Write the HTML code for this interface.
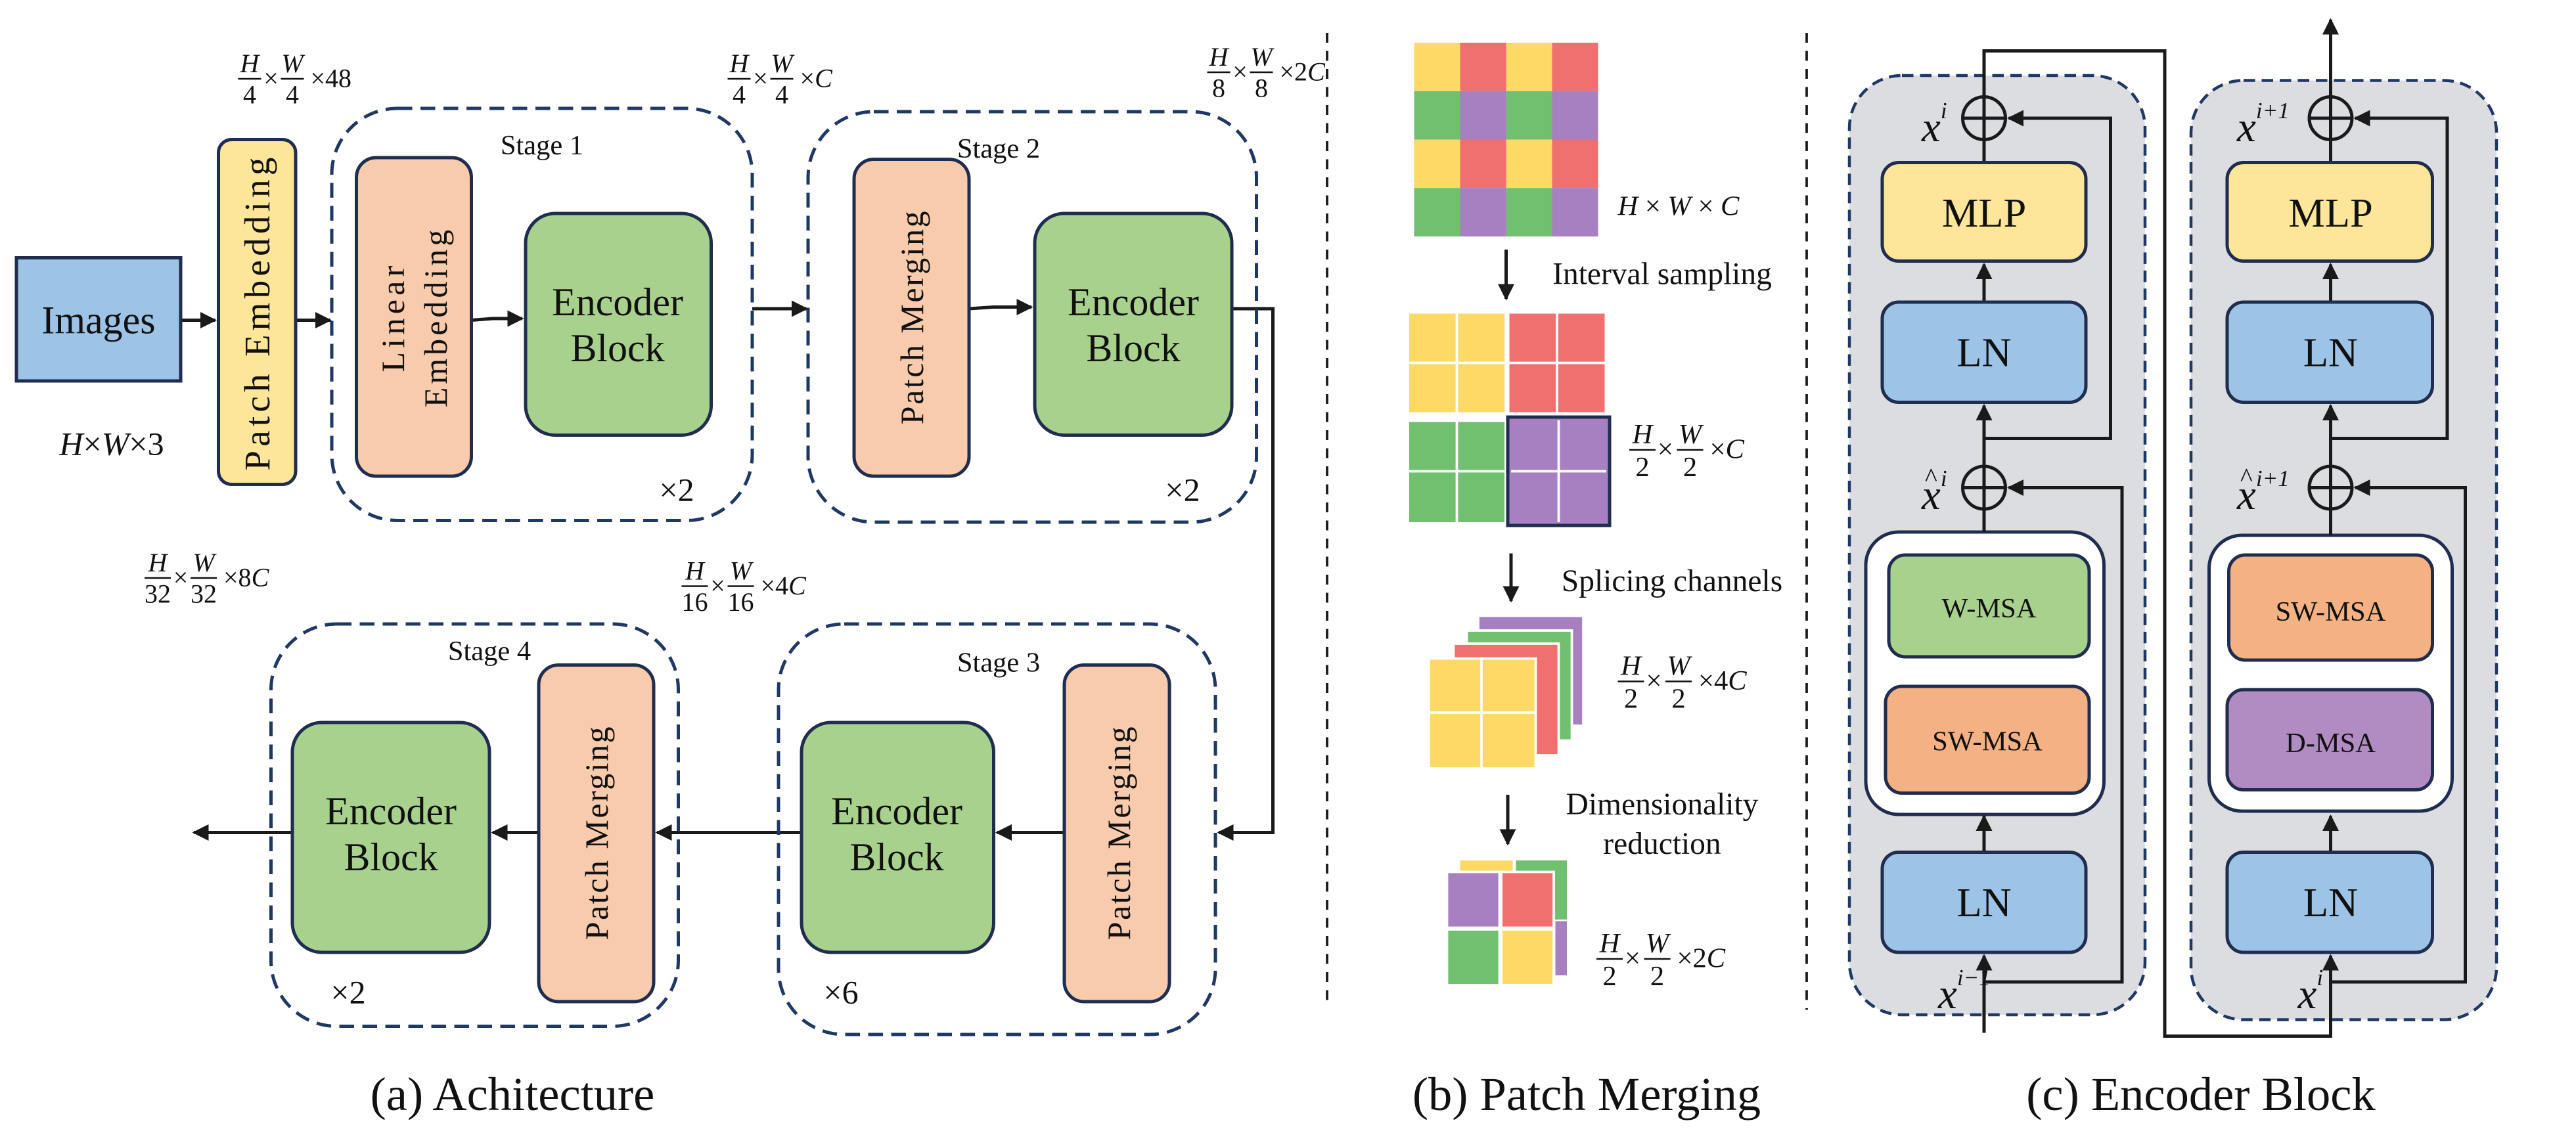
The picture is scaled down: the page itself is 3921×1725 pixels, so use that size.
<!DOCTYPE html>
<html><head><meta charset="utf-8"><style>
html,body{margin:0;padding:0;background:#fff}
svg{display:block;font-family:"Liberation Serif","DejaVu Serif",serif}
svg text{font-family:"Liberation Serif","DejaVu Serif",serif;fill:#111}
.i{font-style:italic}
</style></head><body>
<svg width="3921" height="1725" viewBox="0 0 1568.4 690" xmlns="http://www.w3.org/2000/svg" font-family="Liberation Serif, serif">
<defs>
<marker id="a" viewBox="0 0 10 10" refX="9" refY="5" markerWidth="5" markerHeight="5" orient="auto" markerUnits="strokeWidth"><path d="M0,0 L10,5 L0,10 z" fill="#1a1a1a"/></marker>
</defs>
<g stroke="#1a1a1a" stroke-width="2" fill="none">
<path d="M110,195 H131" marker-end="url(#a)"/>
<path d="M180,195 H201" marker-end="url(#a)"/>
<path d="M287,195 L300,194 H318" marker-end="url(#a)"/>
<path d="M458,188 H491" marker-end="url(#a)"/>
<path d="M590,188 L605,187 H628" marker-end="url(#a)"/>
<path d="M750,188 H775 V507 H742" marker-end="url(#a)"/>
<path d="M648,507 H607" marker-end="url(#a)"/>
<path d="M488,507 H400" marker-end="url(#a)"/>
<path d="M328,507 H300" marker-end="url(#a)"/>
<path d="M178,507 H118" marker-end="url(#a)"/>
</g>
<g stroke="#1a1a1a" stroke-width="1.5" stroke-dasharray="6 5">
<line x1="808" y1="20" x2="808" y2="612"/>
<line x1="1100" y1="20" x2="1100" y2="615"/>
</g>
<g stroke="#1f3864" stroke-width="2" stroke-dasharray="9 5" fill="none">
<rect x="202" y="66" width="256" height="251" rx="40"/>
<rect x="492" y="68" width="273" height="250" rx="40"/>
<rect x="474" y="380" width="266" height="250" rx="40"/>
<rect x="165" y="380" width="248" height="245" rx="40"/>
</g>
<g stroke="#1f2d4f" stroke-width="2">
<rect x="10" y="157" width="100" height="75" fill="#9dc3e6"/>
<rect x="133" y="85" width="47" height="210" rx="8" fill="#fde699"/>
<rect x="217" y="96" width="70" height="194" rx="12" fill="#f8cbad"/>
<rect x="320" y="130" width="113" height="135" rx="18" fill="#a9d18e"/>
<rect x="520" y="97" width="70" height="193" rx="12" fill="#f8cbad"/>
<rect x="630" y="130" width="120" height="135" rx="18" fill="#a9d18e"/>
<rect x="648" y="405" width="64" height="205" rx="12" fill="#f8cbad"/>
<rect x="488" y="440" width="117" height="140" rx="18" fill="#a9d18e"/>
<rect x="328" y="405" width="70" height="205" rx="12" fill="#f8cbad"/>
<rect x="178" y="440" width="120" height="140" rx="18" fill="#a9d18e"/>
</g>
<g font-size="24" text-anchor="middle">
<text x="60" y="203">Images</text>
<text x="376" y="192">Encoder</text><text x="376" y="220">Block</text>
<text x="690" y="192">Encoder</text><text x="690" y="220">Block</text>
<text x="546" y="502">Encoder</text><text x="546" y="530">Block</text>
<text x="238" y="502">Encoder</text><text x="238" y="530">Block</text>
<text transform="translate(164,190) rotate(-90)" font-size="22" letter-spacing="2.5">Patch Embedding</text>
<text transform="translate(246,193) rotate(-90)" font-size="20" letter-spacing="2.5">Linear</text>
<text transform="translate(272,193) rotate(-90)" font-size="20" letter-spacing="2">Embedding</text>
<text transform="translate(562,193) rotate(-90)" font-size="20" letter-spacing="1">Patch Merging</text>
<text transform="translate(688,507) rotate(-90)" font-size="20" letter-spacing="1">Patch Merging</text>
<text transform="translate(370,507) rotate(-90)" font-size="20" letter-spacing="1">Patch Merging</text>
</g>
<g font-size="17" text-anchor="middle">
<text x="330" y="94">Stage 1</text>
<text x="608" y="96">Stage 2</text>
<text x="608" y="409">Stage 3</text>
<text x="298" y="402">Stage 4</text>
</g>
<g font-size="20" text-anchor="middle">
<text x="412" y="305">×2</text><text x="720" y="305">×2</text>
<text x="512" y="611">×6</text><text x="212" y="611">×2</text>
<text x="68" y="277"><tspan class="i">H</tspan>×<tspan class="i">W</tspan>×3</text>
</g>
<g font-size="16" text-anchor="middle">
<g transform="translate(145,48)"><text class="i" x="7" y="-4">H</text><line x1="0" y1="0" x2="14" y2="0" stroke="#111"/><text x="7" y="15">4</text><text x="20" y="5">×</text><text class="i" x="33" y="-4">W</text><line x1="26" y1="0" x2="40" y2="0" stroke="#111"/><text x="33" y="15">4</text><text x="44" y="5" text-anchor="start">×48</text></g>
<g transform="translate(443,48)"><text class="i" x="7" y="-4">H</text><line x1="0" y1="0" x2="14" y2="0" stroke="#111"/><text x="7" y="15">4</text><text x="20" y="5">×</text><text class="i" x="33" y="-4">W</text><line x1="26" y1="0" x2="40" y2="0" stroke="#111"/><text x="33" y="15">4</text><text x="44" y="5" text-anchor="start">×<tspan class="i">C</tspan></text></g>
<g transform="translate(735,44)"><text class="i" x="7" y="-4">H</text><line x1="0" y1="0" x2="14" y2="0" stroke="#111"/><text x="7" y="15">8</text><text x="20" y="5">×</text><text class="i" x="33" y="-4">W</text><line x1="26" y1="0" x2="40" y2="0" stroke="#111"/><text x="33" y="15">8</text><text x="44" y="5" text-anchor="start">×2<tspan class="i">C</tspan></text></g>
<g transform="translate(88,352)"><text class="i" x="8" y="-4">H</text><line x1="0" y1="0" x2="16" y2="0" stroke="#111"/><text x="8" y="15">32</text><text x="22" y="5">×</text><text class="i" x="36" y="-4">W</text><line x1="28" y1="0" x2="44" y2="0" stroke="#111"/><text x="36" y="15">32</text><text x="48" y="5" text-anchor="start">×8<tspan class="i">C</tspan></text></g>
<g transform="translate(415,357)"><text class="i" x="8" y="-4">H</text><line x1="0" y1="0" x2="16" y2="0" stroke="#111"/><text x="8" y="15">16</text><text x="22" y="5">×</text><text class="i" x="36" y="-4">W</text><line x1="28" y1="0" x2="44" y2="0" stroke="#111"/><text x="36" y="15">16</text><text x="48" y="5" text-anchor="start">×4<tspan class="i">C</tspan></text></g>
<g transform="translate(992,274)" font-size="17"><text class="i" x="8" y="-4">H</text><line x1="0" y1="0" x2="16" y2="0" stroke="#111"/><text x="8" y="16">2</text><text x="22" y="5">×</text><text class="i" x="37" y="-4">W</text><line x1="29" y1="0" x2="45" y2="0" stroke="#111"/><text x="37" y="16">2</text><text x="49" y="5" text-anchor="start">×<tspan class="i">C</tspan></text></g>
<g transform="translate(985,415)" font-size="17"><text class="i" x="8" y="-4">H</text><line x1="0" y1="0" x2="16" y2="0" stroke="#111"/><text x="8" y="16">2</text><text x="22" y="5">×</text><text class="i" x="37" y="-4">W</text><line x1="29" y1="0" x2="45" y2="0" stroke="#111"/><text x="37" y="16">2</text><text x="49" y="5" text-anchor="start">×4<tspan class="i">C</tspan></text></g>
<g transform="translate(972,584)" font-size="17"><text class="i" x="8" y="-4">H</text><line x1="0" y1="0" x2="16" y2="0" stroke="#111"/><text x="8" y="16">2</text><text x="22" y="5">×</text><text class="i" x="37" y="-4">W</text><line x1="29" y1="0" x2="45" y2="0" stroke="#111"/><text x="37" y="16">2</text><text x="49" y="5" text-anchor="start">×2<tspan class="i">C</tspan></text></g>
<text x="985" y="131" font-size="17" text-anchor="start"><tspan class="i">H</tspan> × <tspan class="i">W</tspan> × <tspan class="i">C</tspan></text>
</g>
<g>
<rect x="861" y="26" width="28" height="29.5" fill="#ffd966"/><rect x="889" y="26" width="28" height="29.5" fill="#f07070"/><rect x="917" y="26" width="28" height="29.5" fill="#ffd966"/><rect x="945" y="26" width="28" height="29.5" fill="#f07070"/>
<rect x="861" y="55.5" width="28" height="29.5" fill="#70c070"/><rect x="889" y="55.5" width="28" height="29.5" fill="#a680c0"/><rect x="917" y="55.5" width="28" height="29.5" fill="#70c070"/><rect x="945" y="55.5" width="28" height="29.5" fill="#a680c0"/>
<rect x="861" y="85" width="28" height="29.5" fill="#ffd966"/><rect x="889" y="85" width="28" height="29.5" fill="#f07070"/><rect x="917" y="85" width="28" height="29.5" fill="#ffd966"/><rect x="945" y="85" width="28" height="29.5" fill="#f07070"/>
<rect x="861" y="114.5" width="28" height="29.5" fill="#70c070"/><rect x="889" y="114.5" width="28" height="29.5" fill="#a680c0"/><rect x="917" y="114.5" width="28" height="29.5" fill="#70c070"/><rect x="945" y="114.5" width="28" height="29.5" fill="#a680c0"/>
</g>
<rect x="858" y="191" width="58" height="60" fill="#ffd966"/>
<rect x="919" y="191" width="58" height="60" fill="#f07070"/>
<rect x="858" y="257" width="58" height="61" fill="#70c070"/>
<rect x="918" y="254" width="62" height="66" fill="#a680c0" stroke="#1f2d4f" stroke-width="2"/>
<g stroke="#fff" stroke-width="1.5">
<line x1="887" y1="191" x2="887" y2="251"/><line x1="858" y1="221" x2="916" y2="221"/>
<line x1="948" y1="191" x2="948" y2="251"/><line x1="919" y1="221" x2="977" y2="221"/>
<line x1="887" y1="257" x2="887" y2="318"/><line x1="858" y1="287" x2="916" y2="287"/>
<line x1="949" y1="256" x2="949" y2="318"/><line x1="920" y1="287" x2="978" y2="287"/>
</g>
<g stroke="#fff" stroke-width="1.5">
<rect x="900" y="375" width="64" height="67" fill="#a680c0"/>
<rect x="893" y="384" width="64" height="67" fill="#70c070"/>
<rect x="885" y="392" width="64" height="68" fill="#f07070"/>
<rect x="870" y="401" width="65" height="67" fill="#ffd966"/>
<line x1="902" y1="401" x2="902" y2="468"/><line x1="870" y1="434" x2="935" y2="434"/>
</g>
<rect x="889" y="524" width="32" height="8" fill="#ffd966"/>
<rect x="923" y="524" width="31" height="36" fill="#70c070"/>
<rect x="947" y="561" width="7" height="33" fill="#a680c0"/>
<g stroke="#fff" stroke-width="1.5">
<rect x="881" y="531" width="32" height="34" fill="#a680c0"/>
<rect x="914" y="531" width="32" height="34" fill="#f07070"/>
<rect x="881" y="566" width="32" height="34" fill="#70c070"/>
<rect x="914" y="566" width="32" height="34" fill="#ffd966"/>
</g>
<g stroke="#1a1a1a" stroke-width="2">
<line x1="917" y1="152" x2="917" y2="182" marker-end="url(#a)"/>
<line x1="920" y1="337" x2="920" y2="366" marker-end="url(#a)"/>
<line x1="918" y1="484" x2="918" y2="514" marker-end="url(#a)"/>
</g>
<g font-size="19" text-anchor="middle">
<text x="1012" y="173">Interval sampling</text>
<text x="1018" y="360">Splicing channels</text>
<text x="1012" y="496">Dimensionality</text>
<text x="1012" y="520">reduction</text>
</g>
<g fill="#dcdde0" stroke="#1f3864" stroke-width="1.8" stroke-dasharray="7 4">
<rect x="1126" y="46" width="180" height="572" rx="32"/>
<rect x="1334" y="49" width="186" height="572" rx="32"/>
</g>
<g fill="#fff" stroke="#1f2d4f" stroke-width="2">
<rect x="1136" y="324" width="145" height="172" rx="20"/>
<rect x="1345" y="326" width="148" height="168" rx="20"/>
</g>
<g stroke="#1a1a1a" stroke-width="2" fill="none">
<path d="M1208,629 V582" marker-end="url(#a)"/>
<path d="M1208,519 V497" marker-end="url(#a)"/>
<path d="M1208,324 V310"/>
<path d="M1208,284 V247" marker-end="url(#a)"/>
<path d="M1208,184 V161" marker-end="url(#a)"/>
<path d="M1208,99 V85"/>
<path d="M1208,598 H1292 V297 H1223" marker-end="url(#a)"/>
<path d="M1208,267 H1285 V72 H1223" marker-end="url(#a)"/>
<path d="M1208,59 V31 H1318 V631 H1419 V582" marker-end="url(#a)"/>
<path d="M1419,519 V497" marker-end="url(#a)"/>
<path d="M1419,326 V310"/>
<path d="M1419,284 V247" marker-end="url(#a)"/>
<path d="M1419,184 V161" marker-end="url(#a)"/>
<path d="M1419,99 V85"/>
<path d="M1419,598 H1501 V297 H1434" marker-end="url(#a)"/>
<path d="M1419,267 H1490 V72 H1434" marker-end="url(#a)"/>
<path d="M1419,59 V12" marker-end="url(#a)"/>
<circle cx="1208" cy="72" r="13"/><path d="M1195,72 H1221 M1208,59 V85"/>
<circle cx="1208" cy="297" r="13"/><path d="M1195,297 H1221 M1208,284 V310"/>
<circle cx="1419" cy="72" r="13"/><path d="M1406,72 H1432 M1419,59 V85"/>
<circle cx="1419" cy="297" r="13"/><path d="M1406,297 H1432 M1419,284 V310"/>
</g>
<g stroke="#1f2d4f" stroke-width="2">
<rect x="1146" y="99" width="124" height="60" rx="10" fill="#fde699"/>
<rect x="1146" y="184" width="124" height="61" rx="10" fill="#9dc3e6"/>
<rect x="1150" y="338" width="122" height="62" rx="10" fill="#a9d18e"/>
<rect x="1148" y="418" width="124" height="65" rx="10" fill="#f4b183"/>
<rect x="1146" y="519" width="124" height="61" rx="10" fill="#9dc3e6"/>
<rect x="1356" y="99" width="125" height="60" rx="10" fill="#fde699"/>
<rect x="1356" y="184" width="125" height="61" rx="10" fill="#9dc3e6"/>
<rect x="1357" y="338" width="124" height="64" rx="10" fill="#f4b183"/>
<rect x="1356" y="420" width="125" height="61" rx="10" fill="#b08cc2"/>
<rect x="1356" y="519" width="125" height="61" rx="10" fill="#9dc3e6"/>
</g>
<g font-size="25" text-anchor="middle">
<text x="1208" y="138">MLP</text><text x="1208" y="223">LN</text><text x="1208" y="558">LN</text>
<text x="1419" y="138">MLP</text><text x="1419" y="223">LN</text><text x="1419" y="558">LN</text>
</g>
<g font-size="17" text-anchor="middle">
<text x="1211" y="376">W-MSA</text><text x="1210" y="457">SW-MSA</text>
<text x="1419" y="378">SW-MSA</text><text x="1419" y="458">D-MSA</text>
</g>
<g font-size="26">
<text x="1170" y="86" class="i">x<tspan font-size="14" dy="-14">i</tspan></text>
<text x="1170" y="310" class="i">x<tspan font-size="14" dy="-14">i</tspan></text>
<text x="1172" y="296" font-size="16">^</text>
<text x="1180" y="614" class="i">x<tspan font-size="14" dy="-14">i−1</tspan></text>
<text x="1362" y="86" class="i">x<tspan font-size="14" dy="-14">i+1</tspan></text>
<text x="1362" y="310" class="i">x<tspan font-size="14" dy="-14">i+1</tspan></text>
<text x="1364" y="296" font-size="16">^</text>
<text x="1399" y="614" class="i">x<tspan font-size="14" dy="-14">i</tspan></text>
</g>
<g font-size="29" text-anchor="middle">
<text x="312" y="676">(a) Achitecture</text>
<text x="966" y="676">(b) Patch Merging</text>
<text x="1340" y="676">(c) Encoder Block</text>
</g>
</svg>
</body></html>
